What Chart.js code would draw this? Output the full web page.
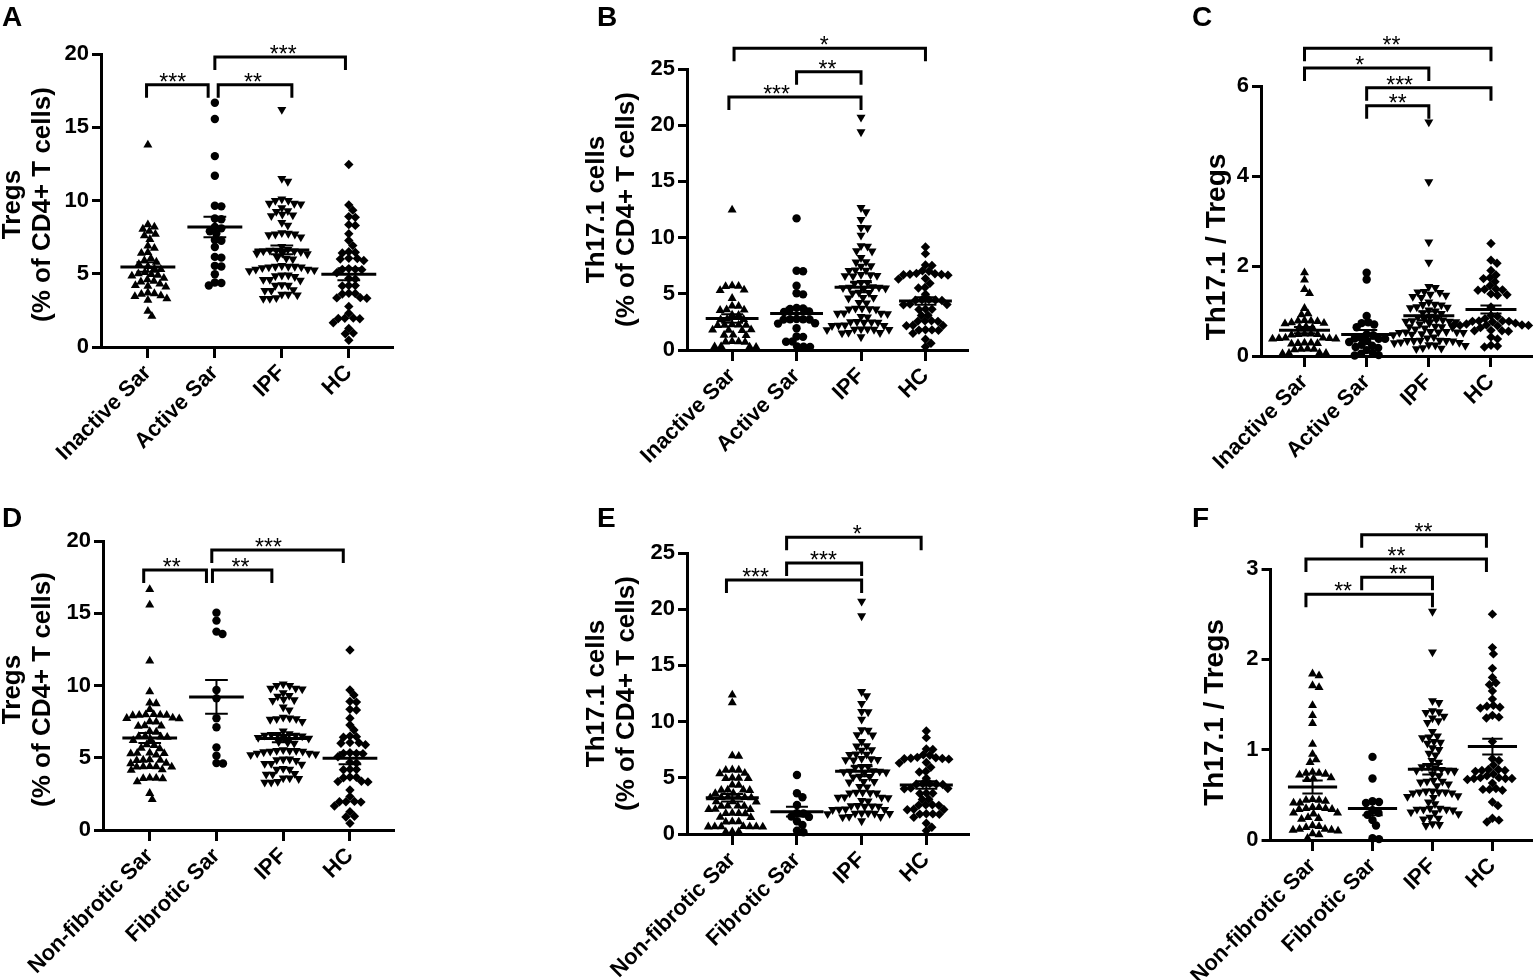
<!DOCTYPE html>
<html>
<head>
<meta charset="utf-8">
<script src="https://cdn.jsdelivr.net/npm/chart.js@4.4.1/dist/chart.umd.min.js"></script>
<style>
  html, body { margin: 0; padding: 0; background: #fff; }
  #fig { position: relative; width: 1536px; height: 980px; overflow: hidden; }
  #fig canvas { position: absolute; }
</style>
</head>
<body>
<div id="fig"></div>
<script>
// categories
const groupsActivity = ['Inactive Sar', 'Active Sar', 'IPF', 'HC'];
const groupsFibrosis = ['Non-fibrotic Sar', 'Fibrotic Sar', 'IPF', 'HC'];

// axis titles
const titleTregs = ['Tregs', '(% of CD4+ T cells)'];
const titleTh = ['Th17.1 cells', '(% of CD4+ T cells)'];
const titleRatio = ['Th17.1 / Tregs'];

// Tregs (% of CD4+ T cells)
const tregsInactive = [13.8, 8.35, 8.2, 8.05, 7.9, 7.7, 7.6, 7.35, 6.9, 6.75, 6.45, 6.4, 6.05, 5.9, 5.8, 5.65, 5.5, 5.35, 5.3, 5.1,
  5.0, 4.95, 4.9, 4.85, 4.7, 4.6, 4.5, 4.45, 4.3, 4.2, 4.15, 4.1, 3.7, 3.65, 3.6, 3.5, 3.45, 3.3, 3.2, 2.45, 2.1];
const tregsActive = [16.67, 15.56, 13.03, 11.69, 9.64, 9.6, 8.77, 8.72, 8.2, 8.1, 7.9, 7.75, 7.3, 7.25, 6.83, 6.15, 6.1, 5.54, 5.5,
  4.97, 4.4, 4.37, 4.2];
const tregsIpfD = [10.1, 10.0, 10.0, 9.8, 9.8, 9.75, 9.5, 9.3, 9.25, 9.05, 9.0, 8.95, 8.5, 8.3, 7.8, 7.75, 7.7, 7.7, 7.65, 7.5,
  6.85, 6.65, 6.6, 6.6, 6.55, 6.55, 6.5, 6.4, 6.4, 6.35, 6.1, 6.0, 6.05, 5.55, 5.5, 5.5, 5.45, 5.5, 5.45, 5.4, 5.3, 5.3, 5.25, 5.2,
  4.9, 4.9, 4.85, 4.8, 4.6, 4.6, 4.55, 4.25, 4.2, 4.2, 3.9, 3.85, 3.85, 3.6, 3.6, 3.55, 3.35, 3.3, 3.3];
const tregsIpfA = [16.2, 11.5, 11.3, ...tregsIpfD];
const tregsHc = [12.46, 9.69, 9.34, 8.9, 8.85, 8.35, 8.3, 7.73, 7.27, 6.92, 6.5, 6.46, 6.42, 6.05, 6.04, 6.0, 5.9, 5.35, 5.3, 5.3,
  5.28, 5.07, 4.68, 4.64, 4.2, 4.19, 4.17, 3.67, 3.65, 3.62, 3.37, 3.35, 3.33, 2.77, 2.31, 1.98, 1.96, 1.95, 1.93, 1.66, 1.27, 0.95,
  0.9, 0.46];
const tregsNonFib = [16.65, 15.57, 11.7, 9.57, 8.8, 8.75, 8.35, 8.0, 7.98, 7.96, 7.95, 7.94, 7.92, 7.75, 7.73, 7.7, 7.5, 7.48, 7.22,
  7.2, 7.18, 6.82, 6.78, 6.5, 6.47, 6.45, 6.43, 6.25, 6.2, 5.9, 5.86, 5.67, 5.63, 5.33, 5.31, 5.3, 5.28, 5.2, 4.86, 4.84, 4.83, 4.82,
  4.62, 4.6, 4.4, 4.39, 4.38, 4.37, 4.36, 4.17, 4.14, 3.6, 3.58, 3.57, 3.55, 3.35, 2.54, 2.12];
const tregsFib = [15.04, 14.49, 13.73, 13.56, 9.69, 9.11, 7.73, 7.11, 5.72, 5.14, 4.63, 4.6];

// Th17.1 cells (% of CD4+ T cells)
const thInactive = [12.46, 5.72, 5.68, 5.65, 5.34, 5.3, 4.6, 3.93, 3.9, 3.58, 3.56, 3.53, 3.12, 3.1, 2.75, 2.73, 2.7, 2.25, 2.23,
  2.22, 2.2, 2.18, 1.8, 1.78, 1.77, 1.75, 1.35, 1.33, 1.3, 0.76, 0.74, 0.73, 0.7, 0.32, 0.3, 0.28, 0.26];
const thActive = [11.71, 7.05, 7.0, 5.72, 5.05, 4.95, 3.75, 3.7, 3.65, 3.42, 3.38, 2.76, 2.74, 2.73, 2.71, 2.7, 2.38, 2.35, 1.93,
  1.2, 1.17, 0.75, 0.73, 0.32, 0.3, 0.28];
const thIpf = [20.7, 19.4, 12.66, 12.28, 11.61, 10.9, 10.86, 10.2, 9.27, 9.23, 8.83, 8.79, 8.21, 7.85, 7.81, 7.49, 7.45, 7.11,
  7.09, 7.07, 6.68, 6.6, 6.71, 6.57, 6.63, 6.0, 5.94, 5.99, 5.58, 5.5, 5.61, 5.54, 5.49, 5.57, 5.12, 5.06, 5.1, 4.67, 4.61, 4.66,
  4.22, 4.18, 3.7, 3.64, 3.71, 3.66, 3.63, 3.28, 3.22, 3.27, 3.25, 2.97, 2.93, 2.51, 2.46, 2.52, 2.48, 2.45, 2.2, 2.16, 2.21, 2.17,
  1.86, 1.83, 1.87, 1.81, 1.84, 1.8, 1.55, 1.51, 1.54, 1.16];
const thHc = [9.16, 8.57, 7.56, 7.52, 7.05, 7.01, 6.82, 6.74, 6.7, 6.66, 6.72, 6.78, 6.36, 6.31, 5.93, 5.57, 5.52, 4.96, 4.47,
  4.45, 4.43, 4.48, 4.41, 4.08, 4.05, 4.02, 3.64, 3.6, 3.62, 3.1, 3.07, 2.6, 2.57, 2.55, 2.59, 2.2, 2.18, 2.16, 1.8, 1.77, 1.75,
  1.79, 1.48, 0.95, 0.6, 0.3];
const thNonFib = [12.37, 11.68, 6.96, 6.92, 5.71, 5.69, 5.67, 5.42, 5.38, 4.98, 4.97, 4.95, 4.94, 4.37, 4.35, 3.93, 3.92, 3.9,
  3.89, 3.63, 3.61, 3.28, 3.27, 3.26, 3.25, 3.24, 3.23, 2.88, 2.87, 2.86, 2.5, 2.49, 2.48, 2.47, 2.2, 2.19, 2.18, 1.85, 1.84, 1.83,
  1.82, 1.49, 1.47, 1.1, 1.09, 1.08, 0.67, 0.66, 0.65, 0.64, 0.65, 0.63, 0.66, 0.21, 0.2, 0.19];
const thFib = [5.25, 3.62, 3.27, 2.58, 1.86, 1.83, 1.55, 1.52, 1.13, 0.8, 0.3, 0.15];

// Th17.1 / Tregs
const ratioInactive = [1.85, 1.69, 1.48, 1.39, 1.06, 0.94, 0.92, 0.79, 0.78, 0.77, 0.78, 0.74, 0.73, 0.72, 0.65, 0.64, 0.63, 0.49,
  0.48, 0.47, 0.48, 0.49, 0.4, 0.39, 0.38, 0.39, 0.4, 0.38, 0.29, 0.28, 0.27, 0.28, 0.29, 0.16, 0.15, 0.14, 0.15, 0.07, 0.06, 0.05, 0.06];
const ratioActive = [1.85, 1.7, 0.89, 0.75, 0.73, 0.7, 0.64, 0.48, 0.46, 0.4, 0.39, 0.38, 0.38, 0.33, 0.31, 0.25, 0.23, 0.2, 0.18,
  0.13, 0.07, 0.05, 0.02, 0.01];
const ratioIpfF = [2.53, 2.08, 1.54, 1.52, 1.43, 1.42, 1.41, 1.37, 1.35, 1.32, 1.3, 1.2, 1.15, 1.14, 1.13, 1.09, 1.08, 1.07, 1.02,
  1.0, 0.96, 0.94, 0.88, 0.86, 0.82, 0.81, 0.8, 0.78, 0.77, 0.77, 0.76, 0.73, 0.71, 0.66, 0.65, 0.64, 0.65, 0.62, 0.6, 0.54, 0.53,
  0.53, 0.52, 0.54, 0.53, 0.52, 0.49, 0.48, 0.47, 0.42, 0.4, 0.35, 0.34, 0.34, 0.33, 0.35, 0.34, 0.31, 0.3, 0.29, 0.25, 0.24, 0.23,
  0.18, 0.16, 0.17];
const ratioIpfC = [5.2, 3.87, ...ratioIpfF];
const ratioHc = [2.5, 2.13, 2.06, 1.9, 1.8, 1.74, 1.72, 1.65, 1.56, 1.49, 1.48, 1.47, 1.46, 1.38, 1.36, 1.35, 1.09, 0.9, 0.88,
  0.83, 0.78, 0.77, 0.77, 0.76, 0.78, 0.73, 0.71, 0.69, 0.68, 0.68, 0.67, 0.69, 0.68, 0.63, 0.57, 0.56, 0.56, 0.55, 0.42, 0.38,
  0.24, 0.22, 0.2];
const ratioNonFib = [1.84, 1.82, 1.71, 1.69, 1.49, 1.38, 1.29, 1.06, 0.95, 0.89, 0.86, 0.75, 0.74, 0.73, 0.74, 0.72, 0.69, 0.68,
  0.67, 0.45, 0.44, 0.43, 0.44, 0.41, 0.41, 0.36, 0.35, 0.34, 0.35, 0.36, 0.34, 0.3, 0.3, 0.29, 0.25, 0.24, 0.23, 0.16, 0.15, 0.14,
  0.12, 0.11, 0.1, 0.11, 0.12, 0.07, 0.06, 0.02];
const ratioFib = [0.92, 0.68, 0.43, 0.42, 0.41, 0.33, 0.3, 0.28, 0.22, 0.16, 0.02, 0.01];

// significance brackets: [from, to, level, label x, label]
const bracketsA = [[-0.02, 0.9, 17.9, 0.37, '***'], [1.05, 2.15, 17.9, 1.57, '**'], [1.0, 2.95, 19.8, 2.02, '***']];
const bracketsB = [[0.03, 3.0, 26.85, 1.43, '*'], [1.0, 2.0, 24.75, 1.48, '**'], [-0.05, 2.0, 22.5, 0.69, '***']];
const bracketsC = [[0, 3, 6.84, 1.4, '**'], [0, 2, 6.4, 0.89, '*'], [1, 3, 5.96, 1.53, '***'], [1, 2, 5.56, 1.5, '**']];
const bracketsD = [[-0.09, 0.85, 18.0, 0.33, '**'], [0.94, 1.83, 18.0, 1.36, '**'], [0.93, 2.9, 19.38, 1.78, '***']];
const bracketsE = [[0.84, 2.92, 26.4, 1.93, '*'], [0.84, 2.0, 24.1, 1.41, '***'], [-0.09, 2.0, 22.6, 0.36, '***']];
const bracketsF = [[0.82, 2.9, 3.38, 1.85, '**'], [-0.11, 2.9, 3.11, 1.4, '**'], [0.82, 2.0, 2.91, 1.43, '**'], [-0.11, 2.0, 2.72, 0.51, '**']];

const FONT = "Arial, 'Liberation Sans', Helvetica, sans-serif";
Chart.defaults.font.family = FONT;
Chart.defaults.color = '#000';

const STYLES = ['triangle', 'circle', 'triangle', 'rectRot'];
const ROT = [0, 0, 180, 0];
const RADII = [5.2, 4.2, 5.2, 4.7];

// tx: x of first title line, tdy: shift of title from axis middle
const panels = [
  { letter: 'A', left: 0, top: 0, w: 585, h: 490, padTop: 54, padRight: 192, yW: 101, xH: 143, tx: 13, tdy: 4, tsize: 26,
    cats: groupsActivity, title: titleTregs, ymax: 20, step: 5, groups: [tregsInactive, tregsActive, tregsIpfA, tregsHc], br: bracketsA, lx: 2, ly: 26 },
  { letter: 'B', left: 585, top: 0, w: 595, h: 490, padTop: 69, padRight: 212, yW: 102, xH: 140, tx: 12, tdy: 0, tsize: 26,
    cats: groupsActivity, title: titleTh, ymax: 25, step: 5, groups: [thInactive, thActive, thIpf, thHc], br: bracketsB, lx: 12, ly: 26 },
  { letter: 'C', left: 1180, top: 0, w: 356, h: 490, padTop: 86, padRight: 4, yW: 81, xH: 134, tx: 37, tdy: 26, tsize: 28,
    cats: groupsActivity, title: titleRatio, ymax: 6, step: 2, groups: [ratioInactive, ratioActive, ratioIpfC, ratioHc], br: bracketsC, lx: 12, ly: 26 },
  { letter: 'D', left: 0, top: 490, w: 585, h: 490, padTop: 51, padRight: 191, yW: 103, xH: 150, tx: 13, tdy: 4, tsize: 26,
    cats: groupsFibrosis, title: titleTregs, ymax: 20, step: 5, groups: [tregsNonFib, tregsFib, tregsIpfD, tregsHc], br: bracketsD, lx: 2, ly: 37 },
  { letter: 'E', left: 585, top: 490, w: 595, h: 490, padTop: 63, padRight: 211, yW: 102, xH: 146, tx: 12, tdy: 0, tsize: 26,
    cats: groupsFibrosis, title: titleTh, ymax: 25, step: 5, groups: [thNonFib, thFib, thIpf, thHc], br: bracketsE, lx: 12, ly: 37 },
  { letter: 'F', left: 1180, top: 490, w: 356, h: 490, padTop: 79, padRight: 4, yW: 81, xH: 140, tx: 35, tdy: 8, tsize: 28,
    cats: groupsFibrosis, title: titleRatio, ymax: 3, step: 1, groups: [ratioNonFib, ratioFib, ratioIpfF, ratioHc], br: bracketsF, lx: 12, ly: 37 }
];

function meanSem(v) {
  const n = v.length;
  const m = v.reduce((a, b) => a + b, 0) / n;
  const sd = Math.sqrt(v.reduce((a, b) => a + (b - m) * (b - m), 0) / (n - 1));
  return { m, se: sd / Math.sqrt(n) };
}

function figurePlugin(p) {
  return {
    id: 'figure' + p.letter,
    afterDatasetsDraw(chart) {
      const ctx = chart.ctx, xs = chart.scales.x, ys = chart.scales.y;
      ctx.save();
      ctx.strokeStyle = '#000';
      p.groups.forEach((vals, g) => {
        const { m, se } = meanSem(vals);
        const ym = ys.getPixelForValue(m), yt = ys.getPixelForValue(m + se), yb = ys.getPixelForValue(m - se);
        const xc = xs.getPixelForValue(g);
        ctx.lineWidth = 3;
        ctx.beginPath();
        ctx.moveTo(xs.getPixelForValue(g - 0.41), ym); ctx.lineTo(xs.getPixelForValue(g + 0.41), ym);
        ctx.stroke();
        ctx.lineWidth = 2;
        ctx.beginPath();
        ctx.moveTo(xc, yt); ctx.lineTo(xc, yb);
        ctx.moveTo(xs.getPixelForValue(g - 0.17), yt); ctx.lineTo(xs.getPixelForValue(g + 0.17), yt);
        ctx.moveTo(xs.getPixelForValue(g - 0.17), yb); ctx.lineTo(xs.getPixelForValue(g + 0.17), yb);
        ctx.stroke();
      });
      ctx.restore();
    },
    afterDraw(chart) {
      const ctx = chart.ctx, xs = chart.scales.x, ys = chart.scales.y, area = chart.chartArea;
      ctx.save();
      ctx.strokeStyle = '#000';
      ctx.fillStyle = '#000';
      ctx.lineWidth = 3;
      ctx.lineJoin = 'miter';
      p.br.forEach(([a, b, lvl, tx, txt]) => {
        const x1 = xs.getPixelForValue(a), x2 = xs.getPixelForValue(b), yb = ys.getPixelForValue(lvl);
        ctx.beginPath();
        ctx.moveTo(x1, yb + 13); ctx.lineTo(x1, yb); ctx.lineTo(x2, yb); ctx.lineTo(x2, yb + 13);
        ctx.stroke();
        ctx.font = '23px ' + FONT;
        ctx.textAlign = 'center';
        ctx.textBaseline = 'alphabetic';
        ctx.fillText(txt, xs.getPixelForValue(tx), yb + 5);
      });
      // y axis title
      ctx.font = 'bold ' + p.tsize + 'px ' + FONT;
      ctx.textAlign = 'center';
      ctx.textBaseline = 'middle';
      const cy = (area.top + area.bottom) / 2 + p.tdy;
      p.title.forEach((line, i) => {
        ctx.save();
        ctx.translate(p.tx + i * 30, cy);
        ctx.rotate(-Math.PI / 2);
        ctx.fillText(line, 0, 0);
        ctx.restore();
      });
      // panel letter
      ctx.font = 'bold 28px ' + FONT;
      ctx.textAlign = 'left';
      ctx.textBaseline = 'alphabetic';
      ctx.fillText(p.letter, p.lx, p.ly);
      ctx.restore();
    }
  };
}

// spread points sideways so they do not overlap (beeswarm)
function swarm(chart, groups, gap) {
  const xs = chart.scales.x, ys = chart.scales.y;
  const unit = xs.getPixelForValue(1) - xs.getPixelForValue(0);
  groups.forEach((vals, g) => {
    const placed = [];
    const offs = new Array(vals.length).fill(0);
    const order = vals.map((v, i) => i).sort((a, b) => vals[b] - vals[a]);
    order.forEach(i => {
      const py = ys.getPixelForValue(vals[i]);
      for (let k = 0; k < 400; k++) {
        const dx = (k % 2 ? 1 : -1) * Math.ceil(k / 2) * 0.5;
        if (placed.every(q => (q[0] - dx) ** 2 + (q[1] - py) ** 2 >= gap * gap)) {
          offs[i] = dx;
          placed.push([dx, py]);
          break;
        }
      }
    });
    chart.data.datasets[g].data = vals.map((v, i) => ({ x: g + offs[i] / unit, y: v }));
  });
  chart.update('none');
}

const fig = document.getElementById('fig');
panels.forEach(p => {
  const cv = document.createElement('canvas');
  cv.width = p.w; cv.height = p.h;
  cv.style.left = p.left + 'px'; cv.style.top = p.top + 'px';
  cv.style.width = p.w + 'px'; cv.style.height = p.h + 'px';
  fig.appendChild(cv);

  const chart = new Chart(cv, {
    type: 'scatter',
    data: {
      datasets: p.groups.map((vals, g) => ({
        data: vals.map(v => ({ x: g, y: v })),
        pointStyle: STYLES[g],
        rotation: ROT[g],
        pointRadius: RADII[g],
        pointHoverRadius: RADII[g],
        backgroundColor: '#000',
        borderColor: '#000',
        borderWidth: 0,
        clip: false
      }))
    },
    options: {
      responsive: false,
      animation: false,
      events: [],
      layout: { autoPadding: false, padding: { top: p.padTop, right: p.padRight, left: 0, bottom: 0 } },
      plugins: { legend: { display: false }, tooltip: { enabled: false } },
      scales: {
        x: {
          type: 'linear', min: -0.7, max: 3.66,
          afterBuildTicks: s => { s.ticks = p.cats.map((c, i) => ({ value: i })); },
          afterFit: s => { s.height = p.xH; },
          grid: { drawOnChartArea: false, drawTicks: true, tickLength: 11, tickWidth: 3, tickColor: '#000' },
          border: { display: true, width: 3, color: '#000' },
          ticks: {
            callback: v => p.cats[v], autoSkip: false, minRotation: 45, maxRotation: 45,
            font: { size: 22, weight: 'bold' }, color: '#000', padding: 2
          }
        },
        y: {
          min: 0, max: p.ymax,
          afterFit: s => { s.width = p.yW; },
          grid: { drawOnChartArea: false, drawTicks: true, tickLength: 9, tickWidth: 3, tickColor: '#000' },
          border: { display: true, width: 3, color: '#000' },
          ticks: { stepSize: p.step, font: { size: 22, weight: 'bold' }, color: '#000', padding: 3 }
        }
      }
    },
    plugins: [figurePlugin(p)]
  });
  swarm(chart, p.groups, 6.4);
});
</script>
</body>
</html>
